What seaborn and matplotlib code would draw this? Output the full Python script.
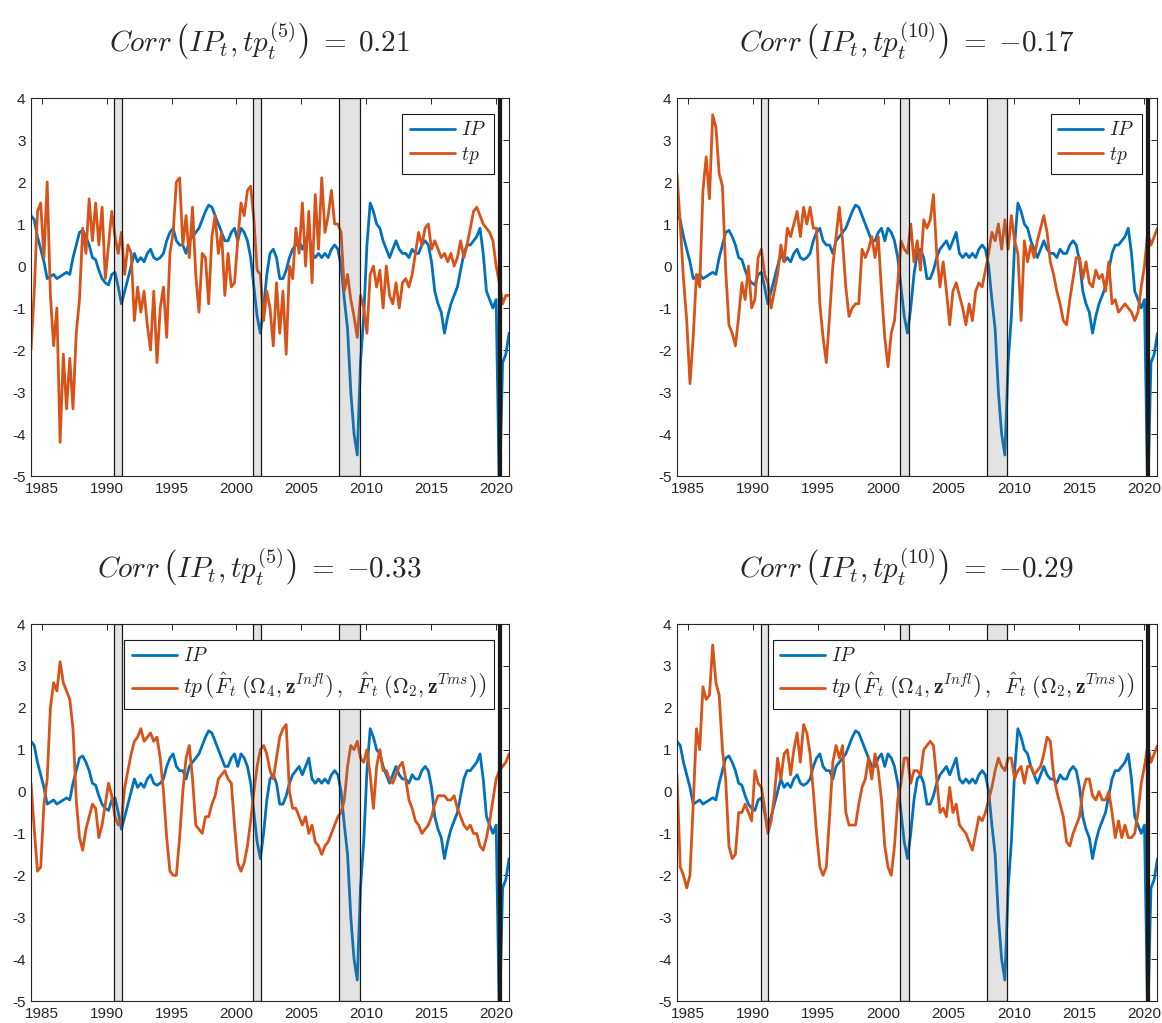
import numpy as np
import matplotlib
matplotlib.use("Agg")
import matplotlib.pyplot as plt
import seaborn as sns

# quarterly readings, 1984Q1 .. 2021Q1 (4 per year + final point)
ip = [1.2, 1.1, 0.7, 0.4,
      0.1, -0.3, -0.25, -0.2,
      -0.3, -0.25, -0.2, -0.15,
      -0.2, 0.2, 0.5, 0.8,
      0.85, 0.7, 0.5, 0.2,
      0.15, -0.1, -0.3, -0.4,
      -0.45, -0.2, -0.15, -0.5,
      -0.9, -0.6, -0.3, 0.0,
      0.3, 0.1, 0.2, 0.1,
      0.3, 0.4, 0.2, 0.15,
      0.2, 0.3, 0.6, 0.8,
      0.9, 0.6, 0.5, 0.5,
      0.3, 0.6, 0.7, 0.8,
      0.9, 1.1, 1.3, 1.45,
      1.4, 1.2, 1.0, 0.8,
      0.6, 0.6, 0.8, 0.9,
      0.6, 0.9, 0.8, 0.6,
      0.2, -0.5, -1.2, -1.6,
      -1.0, -0.2, 0.3, 0.4,
      0.2, -0.3, -0.3, -0.1,
      0.2, 0.4, 0.5, 0.6,
      0.4, 0.6, 0.8, 0.3,
      0.2, 0.3, 0.2, 0.3,
      0.2, 0.4, 0.5, 0.4,
      0.0, -0.8, -1.5, -3.0,
      -4.0, -4.5, -2.3, -1.2,
      0.5, 1.5, 1.3, 1.0,
      0.9, 0.6, 0.4, 0.2,
      0.4, 0.6, 0.4, 0.3,
      0.3, 0.2, 0.4, 0.3,
      0.3, 0.5, 0.6, 0.5,
      0.1, -0.6, -0.9, -1.1,
      -1.6, -1.2, -0.9, -0.7,
      -0.5, -0.1, 0.3, 0.5,
      0.5, 0.6, 0.7, 0.9,
      0.3, -0.6, -0.8, -1.0,
      -0.8, -5.5, -2.3, -2.1,
      -1.6]

tp5_a = [-2.0, -0.6, 1.3, 1.5,
         0.2, 2.0, -0.7, -1.9,
         -1.0, -4.2, -2.1, -3.4,
         -2.2, -3.4, -1.6, -0.8,
         0.9, 0.3, 1.6, 0.6,
         1.5, 0.5, 1.4, -0.3,
         0.5, 1.3, 0.7, 0.3,
         0.8, -0.2, 0.5, 0.3,
         -1.3, -0.5, -1.1, -0.6,
         -1.4, -2.0, -0.6, -2.3,
         -1.0, -0.5, -1.7, 0.3,
         0.8, 2.0, 2.1, 0.5,
         1.2, 0.2, 1.4, -0.2,
         -1.1, 0.3, 0.2, -0.9,
         0.7, 1.2, 0.3, 0.8,
         -0.7, 0.3, -0.5, -0.4,
         0.6, 1.5, 1.2, 1.8,
         1.9, 1.1, -0.1, -0.2,
         -1.3, -0.6, -1.0, -1.9,
         -0.4, -1.6, -0.6, -2.1,
         0.0, -0.3, 0.9, 0.3,
         1.5, 0.0, 1.3, -0.4,
         1.7, 0.4, 2.1, 0.8,
         1.2, 1.8, 1.0, 1.0,
         0.8, -0.6, -0.2, -0.8,
         -1.2, -1.7, -0.7, -1.0,
         -1.6, -0.2, 0.0, -0.5,
         -0.1, -1.0, 0.0, -0.7,
         -0.9, -0.4, -1.0, -0.4,
         -0.3, -0.5, -0.2, 0.3,
         0.8, 0.5, 0.9, 1.0,
         0.4, 0.6, 0.4, 0.2,
         0.3, 0.1, 0.3, 0.0,
         0.2, 0.6, 0.2, 0.5,
         0.9, 1.3, 1.4, 1.2,
         1.0, 0.9, 0.8, 0.6,
         0.0, -0.4, -0.9, -0.7,
         -0.7]

tp10_a = [2.2, 1.0, -0.3, -1.3,
          -2.8, -1.7, -0.2, -0.5,
          1.8, 2.6, 1.6, 3.6,
          3.3, 2.2, 1.9, -0.1,
          -1.4, -1.6, -1.9, -1.2,
          -0.4, -0.8, 0.0, -1.0,
          -0.8, 0.2, 0.4, -0.2,
          -0.4, -1.0, -0.6, -0.2,
          0.5, 0.1, 0.9, 0.7,
          1.0, 1.3, 0.7, 1.4,
          1.0, 1.4, 0.9, 0.9,
          -0.9, -1.7, -2.3, -1.2,
          0.0, 0.7, 1.4, 0.6,
          -0.5, -1.2, -1.0, -0.9,
          -0.9, 0.4, 0.2, 0.4,
          0.7, 0.2, 0.7, -0.6,
          -1.7, -2.4, -1.6, -1.3,
          -0.4, 0.6, 0.4, 0.3,
          1.0, 0.1, 0.6, -0.1,
          1.1, 0.9, 1.1, 1.7,
          0.3, -0.5, 0.1, -0.6,
          -1.4, -0.6, -0.4, -0.7,
          -1.0, -1.4, -0.9, -1.3,
          -0.6, -0.4, -0.5, -0.1,
          0.3, 0.8, 0.6, 1.0,
          0.4, 1.1, 0.4, 1.2,
          0.6, 0.3, -1.3, 0.6,
          0.1, 0.5, 0.2, 0.6,
          0.9, 1.2, 0.8, 0.1,
          -0.2, -0.6, -0.9, -1.3,
          -1.4, -0.8, -0.3, 0.2,
          0.2, -0.3, 0.1, -0.4,
          -0.5, -0.1, -0.3, -0.2,
          -0.6, 0.1, -0.9, -0.8,
          -1.1, -1.0, -0.9, -1.0,
          -1.1, -1.3, -1.1, -0.5,
          0.0, 0.8, 0.5, 0.7,
          0.9]

tp5_b = [0.2, -0.9, -1.9, -1.8,
         -0.3, 0.3, 2.0, 2.6,
         2.4, 3.1, 2.6, 2.4,
         2.2, 1.5, -0.2, -1.1,
         -1.4, -0.9, -0.6, -0.3,
         -0.4, -1.1, -0.8, -0.3,
         0.2, -0.1, -0.6, -0.8,
         -0.7, 0.1, 0.5, 0.9,
         1.2, 1.3, 1.5, 1.2,
         1.3, 1.4, 1.2, 1.3,
         0.8, 0.0, -1.1, -1.9,
         -2.0, -2.0, -1.1, 0.0,
         0.8, 1.1, 0.3, -0.8,
         -0.9, -1.0, -0.6, -0.6,
         -0.3, -0.1, 0.3, 0.4,
         0.5, 0.3, 0.2, -0.8,
         -1.7, -1.9, -1.7, -1.3,
         -0.7, 0.0, 0.6, 1.0,
         1.1, 0.9, 0.5, 0.3,
         0.8, 1.3, 1.5, 1.6,
         0.0, -0.4, -0.4, -0.6,
         -0.8, -0.6, -1.0, -0.8,
         -1.2, -1.3, -1.5, -1.3,
         -1.2, -1.0, -0.8, -0.6,
         -0.5, -0.2, 0.6, 1.1,
         1.0, 1.2, 0.8, 0.7,
         1.0, 0.4, -0.4, 0.6,
         1.0, 0.5, 0.5, 0.3,
         0.2, 0.4, 0.6, 0.7,
         0.3, -0.2, -0.4, -0.7,
         -0.8, -1.0, -0.9, -0.8,
         -0.6, -0.3, -0.1, -0.1,
         -0.1, -0.2, -0.2, -0.1,
         -0.4, -0.6, -0.8, -0.9,
         -0.8, -1.0, -1.0, -1.3,
         -1.4, -1.1, -0.7, -0.2,
         0.3, 0.5, 0.6, 0.7,
         0.9]

tp10_b = [0.4, -1.8, -2.0, -2.3,
          -2.0, -0.3, 1.5, 1.0,
          2.5, 2.2, 2.3, 3.5,
          2.6, 2.3, 1.0, 0.3,
          -1.3, -1.6, -1.5, -0.5,
          -0.5, -0.3, -0.5, -0.7,
          0.5, 0.2, 0.1, -0.4,
          -1.0, -0.7, -0.1, 0.8,
          0.3, 0.9, 1.0, 0.4,
          1.0, 1.4, 0.7, 1.6,
          1.4, 0.9, 0.0, -1.0,
          -1.8, -2.0, -1.8, -0.6,
          0.7, 1.1, 0.8, 1.1,
          -0.5, -0.8, -0.8, -0.8,
          -0.3, 0.1, 0.3, 0.8,
          0.3, 0.9, 0.5, -0.2,
          -1.3, -1.8, -2.0, -1.3,
          -0.2, 0.2, 0.8, 0.8,
          0.2, 0.5, 0.5, 0.4,
          1.0, 1.1, 1.2, 1.1,
          0.3, -0.5, -0.4, -0.6,
          0.1, -0.5, -0.3, -0.8,
          -0.9, -1.0, -1.2, -1.4,
          -1.0, -0.6, -0.7, -0.5,
          -0.2, 0.1, 0.5, 0.8,
          0.6, 0.5, 0.8, 0.8,
          0.3, 0.5, 0.6, 0.2,
          0.6, 0.6, 0.4, 0.5,
          0.6, 0.9, 1.3, 1.2,
          0.4, 0.0, -0.3, -0.6,
          -1.2, -1.3, -1.0, -0.8,
          -0.6, 0.0, 0.3, 0.3,
          -0.1, -0.2, 0.0, -0.2,
          -0.2, 0.0, -0.5, -1.1,
          -0.7, -1.1, -0.8, -1.1,
          -1.1, -1.0, -0.5, 0.2,
          0.6, 1.1, 0.7, 0.9,
          1.1]

recessions = [(1990.58, 1991.17), (2001.25, 2001.92), (2007.92, 2009.5), (2020.15, 2020.35)]
titles = [r"$Corr\,\left(IP_t, tp_t^{(5)}\right)\;=\;0.21$",
          r"$Corr\,\left(IP_t, tp_t^{(10)}\right)\;=\;{-}0.17$",
          r"$Corr\,\left(IP_t, tp_t^{(5)}\right)\;=\;{-}0.33$",
          r"$Corr\,\left(IP_t, tp_t^{(10)}\right)\;=\;{-}0.29$"]
long_label = (r"$tp\,\left(\hat{F}_t\;\left(\Omega_4, \mathbf{z}^{Infl}\right)\,,\;\;"
              r"\hat{F}_t\;\left(\Omega_2, \mathbf{z}^{Tms}\right)\right)$")
tp_labels = [r"$tp$", r"$tp$", long_label, long_label]
tp_series = [tp5_a, tp10_a, tp5_b, tp10_b]

x_start, x_end = 1984.17, 2021.0
dates = np.linspace(x_start, x_end, len(ip))

sns.set_theme(style="white")
plt.rcParams["font.family"] = ["Liberation Sans", "DejaVu Sans"]
plt.rcParams["mathtext.fontset"] = "cm"
plt.rcParams["axes.unicode_minus"] = False

blue = "#0072BD"
orange = "#D95319"

fig = plt.figure(figsize=(11.62, 10.23), dpi=100)
positions = [[0.0267, 0.5347, 0.4114, 0.3695],
             [0.5826, 0.5347, 0.4135, 0.3695],
             [0.0267, 0.0215, 0.4114, 0.3685],
             [0.5826, 0.0215, 0.4135, 0.3685]]

for i in range(4):
    ax = fig.add_axes(positions[i])
    sns.lineplot(x=dates, y=ip, ax=ax, color=blue, linewidth=2.0, label=r"$IP$")
    sns.lineplot(x=dates, y=tp_series[i], ax=ax, color=orange, linewidth=2.0, label=tp_labels[i])
    for j, (a, b) in enumerate(recessions):
        face = (0.1, 0.1, 0.1, 1.0) if j == len(recessions) - 1 else (0.45, 0.45, 0.45, 0.2)
        ax.axvspan(a, b, facecolor=face, edgecolor="k", linewidth=0.9, zorder=5)
    ax.set_xlim(x_start, x_end)
    ax.set_ylim(-5, 4)
    ax.set_xticks(range(1985, 2021, 5))
    ax.set_yticks(range(-5, 5))
    ax.tick_params(direction="in", length=4, width=0.7, top=True, right=True,
                   labelsize=11, colors="#262626", pad=4)
    for s in ax.spines.values():
        s.set_color("#262626")
        s.set_linewidth(0.8)
    ax.set_title(titles[i], fontsize=21, pad=33, x=0.478)
    leg = ax.legend(loc="upper right", fontsize=14, frameon=True, fancybox=False,
                    framealpha=1, edgecolor="k", handlelength=2.3,
                    borderaxespad=0.8, labelspacing=0.3, handletextpad=0.3)
    leg.get_frame().set_linewidth(0.8)
    leg.set_zorder(10)
    if i >= 2:
        leg.get_texts()[1].set_fontsize(15.5)

fig.savefig("out.png", dpi=100)
